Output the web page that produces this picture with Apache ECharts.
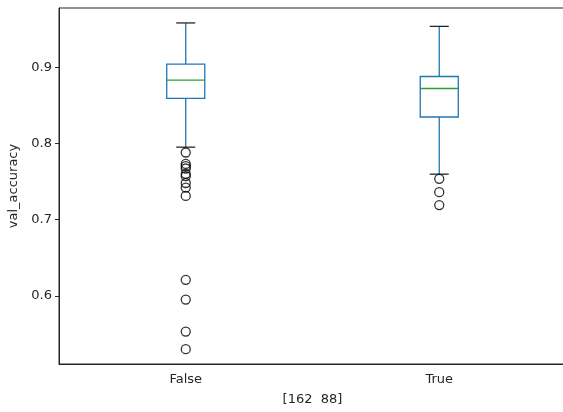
<!DOCTYPE html>
<html><head><meta charset="utf-8">
<script src="https://cdn.jsdelivr.net/npm/echarts@6/dist/echarts.min.js"></script>
<style>html,body{margin:0;padding:0;background:#fff}#c{width:563px;height:412px}</style>
</head><body><div id="c"></div>
<script>
const categories = ['False', 'True'];
const whiskerLow = [0.795, 0.7596];
const q1 = [0.859, 0.8346];
const median = [0.883, 0.872];
const q3 = [0.904, 0.8877];
const whiskerHigh = [0.958, 0.9535];
const outliersFalse = [0.788, 0.773, 0.770, 0.767, 0.760, 0.757, 0.748, 0.742, 0.731, 0.621, 0.595, 0.553, 0.530];
const outliersTrue = [0.7535, 0.736, 0.719];
const yTicks = [0.6, 0.7, 0.8, 0.9];
const xLabel = '[162  88]';
const yLabel = 'val_accuracy';

const boxData = categories.map((c, i) => [i, whiskerLow[i], q1[i], median[i], q3[i], whiskerHigh[i]]);
const outlierData = [];
outliersFalse.forEach(v => outlierData.push([0, v]));
outliersTrue.forEach(v => outlierData.push([1, v]));

const blue = '#1f77b4', green = '#2ca02c', dark = '#262626';
const chart = echarts.init(document.getElementById('c'));
const font = 'DejaVu Sans';
chart.setOption({
  animation: false,
  grid: { left: 59, width: 507, top: 8, height: 356, outerBoundsMode: 'none', containLabel: false,
    show: true, borderColor: dark, borderWidth: 1 },
  xAxis: {
    type: 'category', data: categories, boundaryGap: true,
    axisLine: { lineStyle: { color: dark, width: 1 } },
    axisTick: { alignWithLabel: true, length: 4, lineStyle: { color: dark } },
    axisLabel: { color: dark, fontFamily: font, fontSize: 13, margin: 9 },
    splitLine: { show: false },
    name: xLabel, nameLocation: 'middle', nameGap: 29,
    nameTextStyle: { color: dark, fontFamily: font, fontSize: 13 }
  },
  yAxis: {
    type: 'value', min: 0.5105, max: 0.9776,
    axisLine: { show: true, lineStyle: { color: dark, width: 1 } },
    axisTick: { show: true, length: 4, customValues: yTicks, lineStyle: { color: dark } },
    axisLabel: { color: dark, fontFamily: font, fontSize: 13, margin: 7, customValues: yTicks,
      formatter: v => v.toFixed(1) },
    splitLine: { show: false },
    name: yLabel, nameLocation: 'middle', nameGap: 38,
    nameTextStyle: { color: dark, fontFamily: font, fontSize: 13 }
  },
  series: [
    {
      type: 'custom',
      data: boxData,
      encode: { x: 0, y: [1, 2, 3, 4, 5] },
      renderItem: function (params, api) {
        const cat = api.value(0);
        const bw = api.size([1, 0])[0] * 0.15;
        const lo = api.coord([cat, api.value(1)]);
        const p1 = api.coord([cat, api.value(2)]);
        const pm = api.coord([cat, api.value(3)]);
        const p3 = api.coord([cat, api.value(4)]);
        const hi = api.coord([cat, api.value(5)]);
        const x = lo[0];
        const lw = 1.3;
        return {
          type: 'group',
          children: [
            { type: 'line', shape: { x1: x, y1: lo[1], x2: x, y2: p1[1] }, style: { stroke: blue, lineWidth: lw } },
            { type: 'line', shape: { x1: x, y1: p3[1], x2: x, y2: hi[1] }, style: { stroke: blue, lineWidth: lw } },
            { type: 'line', shape: { x1: x - bw / 4, y1: lo[1], x2: x + bw / 4, y2: lo[1] }, style: { stroke: dark, lineWidth: lw } },
            { type: 'line', shape: { x1: x - bw / 4, y1: hi[1], x2: x + bw / 4, y2: hi[1] }, style: { stroke: dark, lineWidth: lw } },
            { type: 'rect', shape: { x: x - bw / 2, y: p3[1], width: bw, height: p1[1] - p3[1] }, style: { stroke: blue, fill: 'none', lineWidth: lw } },
            { type: 'line', shape: { x1: x - bw / 2, y1: pm[1], x2: x + bw / 2, y2: pm[1] }, style: { stroke: green, lineWidth: lw } }
          ]
        };
      }
    },
    {
      type: 'scatter',
      data: outlierData,
      symbol: 'circle', symbolSize: 9,
      itemStyle: { color: 'rgba(0,0,0,0)', borderColor: '#000', borderWidth: 1.3 },
      z: 5
    }
  ]
});
</script></body></html>
